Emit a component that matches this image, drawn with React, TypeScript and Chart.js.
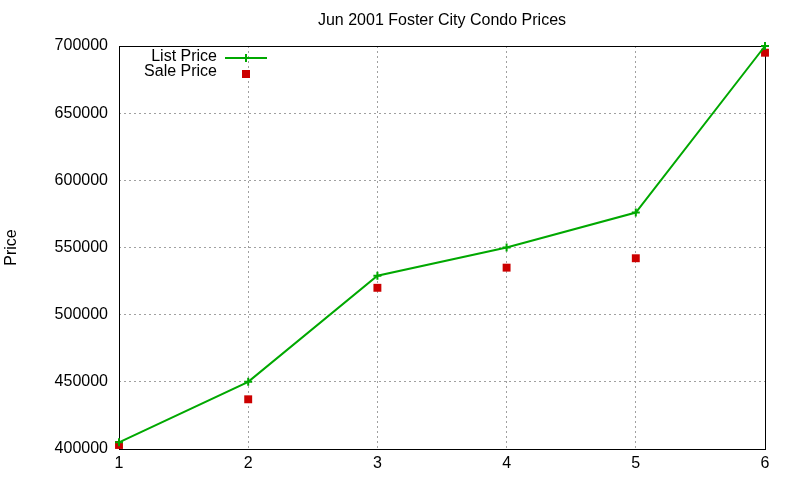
import React, { useEffect, useRef } from 'react';
import { Chart, registerables, Plugin } from 'chart.js';

Chart.register(...registerables);

// data
const periods = [1, 2, 3, 4, 5, 6];
const listPrice = [405000, 450000, 529000, 550000, 576000, 700000];
const salePrice = [403000, 437000, 520000, 535000, 542000, 695000];
const yTicks = [400000, 450000, 500000, 550000, 600000, 650000, 700000];

const chartTitle = 'Jun 2001 Foster City Condo Prices';
const yTitle = 'Price';
const listLabel = 'List Price';
const saleLabel = 'Sale Price';

const GREEN = '#00a800';
const RED = '#cc0000';
const FONT = '"Liberation Sans", Arial, sans-serif';

// gnuplot-style frame, title, y label and legend
const framePlugin: Plugin = {
  id: 'frame',
  beforeDatasetsDraw(chart) {
    const { ctx, chartArea: a } = chart;
    ctx.save();
    ctx.strokeStyle = '#000';
    ctx.lineWidth = 1;
    ctx.setLineDash([]);
    ctx.strokeRect(a.left + 0.5, a.top + 0.5, a.right - a.left, a.bottom - a.top);
    ctx.restore();
  },
  afterDraw(chart) {
    const { ctx, chartArea: a } = chart;
    ctx.save();
    ctx.fillStyle = '#000';
    ctx.font = `16px ${FONT}`;
    ctx.textBaseline = 'middle';

    // title
    ctx.textAlign = 'center';
    ctx.fillText(chartTitle, (a.left + a.right) / 2, 21);

    // y axis label
    ctx.save();
    ctx.translate(12, (a.top + a.bottom) / 2);
    ctx.rotate(-Math.PI / 2);
    ctx.fillText(yTitle, 0, 0);
    ctx.restore();

    // legend
    const textX = a.left + 98;
    const sx = a.left + 127;
    const row1 = a.top + 11;
    const row2 = a.top + 26;
    ctx.textAlign = 'right';
    ctx.fillText(listLabel, textX, row1);
    ctx.fillText(saleLabel, textX, row2);

    ctx.strokeStyle = GREEN;
    ctx.lineWidth = 2;
    ctx.beginPath();
    ctx.moveTo(a.left + 106, row1 + 1);
    ctx.lineTo(a.left + 148, row1 + 1);
    ctx.moveTo(sx, row1 - 3);
    ctx.lineTo(sx, row1 + 5);
    ctx.stroke();

    ctx.fillStyle = RED;
    ctx.fillRect(sx - 4, row2 - 2, 8, 8);
    ctx.restore();
  },
};

export default function App() {
  const canvasRef = useRef<HTMLCanvasElement>(null);
  const chartRef = useRef<Chart | null>(null);

  useEffect(() => {
    if (!canvasRef.current) return;
    if (chartRef.current) chartRef.current.destroy();

    const grid = {
      color: '#a0a0a0',
      lineWidth: 1,
      drawTicks: false,
    };

    chartRef.current = new Chart(canvasRef.current, {
      type: 'scatter',
      data: {
        datasets: [
          {
            label: listLabel,
            data: periods.map((p, i) => ({ x: p, y: listPrice[i] })),
            showLine: true,
            borderColor: GREEN,
            backgroundColor: GREEN,
            borderWidth: 2,
            pointStyle: 'cross',
            pointRadius: 4,
            pointBorderWidth: 2,
            tension: 0,
            clip: false,
          },
          {
            label: saleLabel,
            data: periods.map((p, i) => ({ x: p, y: salePrice[i] })),
            showLine: false,
            borderColor: RED,
            backgroundColor: RED,
            pointStyle: 'rect',
            pointRadius: 5.6,
            pointBorderWidth: 0,
            clip: false,
          },
        ],
      },
      options: {
        responsive: false,
        animation: false,
        devicePixelRatio: 1,
        layout: { padding: { top: 46, right: 35, bottom: 0, left: 0 } },
        plugins: {
          legend: { display: false },
          title: { display: false },
          tooltip: { enabled: false },
        },
        scales: {
          x: {
            type: 'linear',
            min: 1,
            max: 6,
            afterFit: (s: any) => { s.height = 31; },
            afterBuildTicks: (s: any) => { s.ticks = periods.map((v) => ({ value: v })); },
            grid: grid as any,
            border: { display: false, dash: [2, 3] },
            ticks: {
              color: '#000',
              padding: 5,
              font: { family: FONT, size: 16 },
              autoSkip: false,
              maxRotation: 0,
            },
          },
          y: {
            type: 'linear',
            min: 400000,
            max: 700000,
            afterFit: (s: any) => { s.width = 119; },
            afterBuildTicks: (s: any) => { s.ticks = yTicks.map((v) => ({ value: v })); },
            grid: grid as any,
            border: { display: false, dash: [2, 3] },
            ticks: {
              color: '#000',
              padding: 11,
              font: { family: FONT, size: 16 },
              callback: (v: any) => String(v),
            },
          },
        },
      },
      plugins: [framePlugin],
    });

    return () => {
      if (chartRef.current) {
        chartRef.current.destroy();
        chartRef.current = null;
      }
    };
  }, []);

  return (
    <div style={{ position: 'fixed', top: 0, left: 0, width: 800, height: 480, background: '#fff' }}>
      <canvas ref={canvasRef} width={800} height={480} />
    </div>
  );
}
